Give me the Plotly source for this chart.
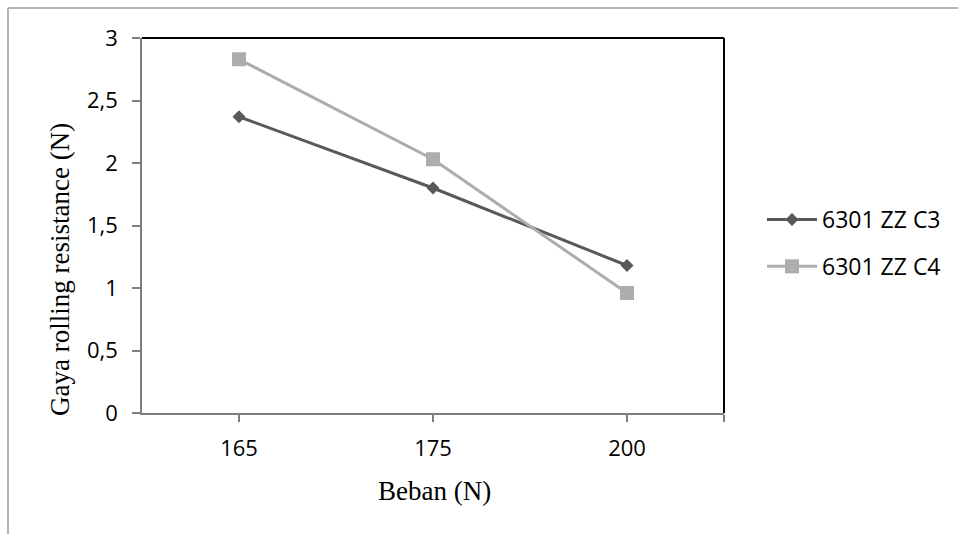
import plotly.graph_objects as go

categories = ["165", "175", "200"]
c3_values = [2.37, 1.80, 1.18]
c4_values = [2.83, 2.03, 0.96]
series_names = ["6301 ZZ C3", "6301 ZZ C4"]
y_ticks = [0, 0.5, 1, 1.5, 2, 2.5, 3]
x_title = "Beban (N)"
y_title = "Gaya rolling resistance (N)"

W, H = 958, 534
L, R, T, B = 142, 234, 38, 121
pw, ph = W - L - R, H - T - B

x_idx = list(range(len(categories)))

fig = go.Figure()
fig.add_trace(go.Scatter(
    x=x_idx, y=c3_values, name=series_names[0], mode="lines+markers",
    line=dict(color="#595959", width=3),
    marker=dict(symbol="diamond", size=10, color="#595959"),
    legendgroup="a",
))
fig.add_trace(go.Scatter(
    x=x_idx, y=c4_values, name=series_names[1], mode="lines+markers",
    line=dict(color="#ADADAD", width=3),
    marker=dict(symbol="square", size=14, color="#ADADAD"),
    legendgroup="b",
))

def px2x(p):
    return (p - L) / pw

def px2y(p):
    return (H - B - p) / ph

shapes = [
    dict(type="line", xref="paper", yref="paper", x0=0, x1=1, y0=1, y1=1,
         line=dict(color="#000000", width=2)),
    dict(type="line", xref="paper", yref="paper", x0=1, x1=1, y0=0, y1=1,
         line=dict(color="#000000", width=2)),
    dict(type="line", xref="paper", yref="paper", x0=px2x(8), x1=px2x(W + 5),
         y0=px2y(8), y1=px2y(8), line=dict(color="#9a9a9a", width=1.5)),
    dict(type="line", xref="paper", yref="paper", x0=px2x(8), x1=px2x(8),
         y0=px2y(8), y1=px2y(H + 5), line=dict(color="#9a9a9a", width=1.5)),
]

annotations = [
    dict(text=x_title, xref="paper", yref="paper", x=px2x(434), y=px2y(491),
         xanchor="center", yanchor="middle", showarrow=False,
         font=dict(family="Liberation Serif", size=27, color="#000000")),
    dict(text=y_title, xref="paper", yref="paper", x=px2x(60), y=px2y(270),
         xanchor="center", yanchor="middle", showarrow=False, textangle=-90,
         font=dict(family="Liberation Serif", size=27, color="#000000")),
]

fig.update_layout(
    width=W, height=H,
    margin=dict(l=L, r=R, t=T, b=B, pad=0),
    paper_bgcolor="white", plot_bgcolor="white",
    separators=",.",
    font=dict(family="Open Sans", size=22, color="#000000"),
    shapes=shapes,
    annotations=annotations,
    showlegend=True,
    legend=dict(
        x=px2x(762), y=px2y(198), xanchor="left", yanchor="top",
        font=dict(family="Open Sans", size=23, color="#000000"),
        bgcolor="rgba(0,0,0,0)", itemwidth=50, tracegroupgap=14,
        traceorder="grouped",
    ),
    xaxis=dict(
        range=[-0.5, 2.5], tickmode="array",
        tickvals=x_idx + [2.5], ticktext=categories + [""],
        showline=True, linecolor="#7f7f7f", linewidth=1.5,
        ticks="outside", ticklen=7, tickcolor="#7f7f7f", tickwidth=1.5,
        showgrid=False, zeroline=False, ticklabelstandoff=8,
    ),
    yaxis=dict(
        range=[0, 3], tickmode="array", tickvals=y_ticks,
        showline=True, linecolor="#7f7f7f", linewidth=1.5,
        ticks="outside", ticklen=8, tickcolor="#7f7f7f", tickwidth=1.5,
        showgrid=False, zeroline=False, ticklabelstandoff=10,
    ),
)

fig.write_html("out.html")
